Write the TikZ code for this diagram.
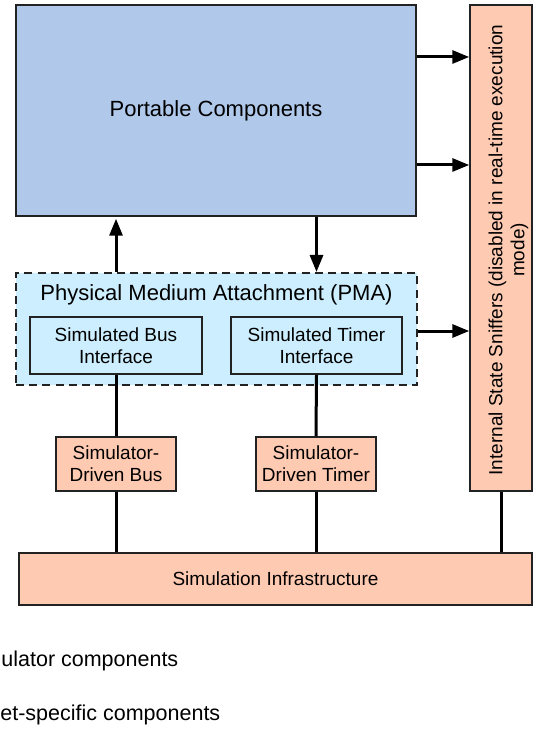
\documentclass[tikz,border=0pt]{standalone}
\usepackage{fontspec}
\setmainfont{Liberation Sans}
\usetikzlibrary{arrows.meta}
\definecolor{pcblue}{HTML}{B0C9EB}
\definecolor{pmacyan}{HTML}{CCEEFE}
\definecolor{salmon}{HTML}{FFCAB2}
\definecolor{edge}{HTML}{222222}
\tikzset{
  box/.style={draw=edge, line width=0.75pt, inner sep=0pt, align=center, font=\fontsize{9.5}{11}\selectfont},
  bluebox/.style={box, fill=pcblue},
  cyanbox/.style={box, fill=pmacyan},
  salbox/.style={box, fill=salmon},
  pmabox/.style={draw=edge, line width=1pt, dash pattern=on 4pt off 2.6pt, fill=pmacyan, inner sep=0pt},
  arr/.style={line width=1.5pt, -{Triangle[length=8.5pt,width=6.5pt]}},
  conn/.style={line width=1.5pt},
  plain/.style={inner sep=0pt, font=\fontsize{9.5}{11}\selectfont},
  legend/.style={inner sep=0pt, anchor=base west, font=\fontsize{10.75}{13}\selectfont}
}
\begin{document}
\begin{tikzpicture}[x=0.5pt,y=-0.5pt]
\useasboundingbox (0,0) rectangle (538,731);
% boxes
\node[bluebox, minimum width=200pt, minimum height=105.5pt, font=\fontsize{11}{13}\selectfont] (portable) at (216,110.5) {Portable Components};
\node[salbox, minimum width=31pt, minimum height=243pt] (sniff) at (501,248) {};
\node[plain, rotate=90, align=center] (snifftext) at (508.5,250) {Internal State Sniffers (disabled in real-time execution\\mode)};
\node[pmabox, minimum width=200.5pt, minimum height=56pt] (pma) at (216.5,329) {};
\node[plain, anchor=base, font=\fontsize{11}{13}\selectfont] (pmatitle) at (216.5,300) {Physical Medium Attachment (PMA)};
\node[cyanbox, minimum width=86pt, minimum height=28.5pt] (busif) at (116,345.5) {Simulated Bus\\Interface};
\node[cyanbox, minimum width=85.5pt, minimum height=28.5pt] (timerif) at (316.5,345.5) {Simulated Timer\\Interface};
\node[salbox, minimum width=60pt, minimum height=27pt] (bus) at (116,464) {Simulator-\\Driven Bus};
\node[salbox, minimum width=60pt, minimum height=27pt] (timer) at (316,464) {Simulator-\\Driven Timer};
\node[salbox, minimum width=256.5pt, minimum height=26pt] (infra) at (275.5,579) {Simulation Infrastructure};
% legend text (cut by page edge)
\node[legend] (leg1) at (1,666) {ulator components};
\node[legend] (leg2) at (0,720) {et-specific components};
% connectors
\coordinate (a1) at (0,57);
\coordinate (a2) at (0,165);
\coordinate (a3) at (0,331);
\draw[arr] (portable.east |- a1) -- (sniff.west |- a1);
\draw[arr] (portable.east |- a2) -- (sniff.west |- a2);
\draw[arr] (pma.east |- a3) -- (sniff.west |- a3);
\draw[arr] (pma.north -| busif) -- ([yshift=-1pt]portable.south -| busif);
\draw[arr] (portable.south -| timerif) -- (pma.north -| timerif);
\draw[conn] (busif.south) -- (bus.north);
\draw[conn] (timerif.south) -- (timer.north);
\draw[conn] (bus.south) -- (bus.south |- infra.north);
\draw[conn] (timer.south) -- (timer.south |- infra.north);
\draw[conn] (sniff.south) -- (sniff.south |- infra.north);
\end{tikzpicture}
\end{document}
